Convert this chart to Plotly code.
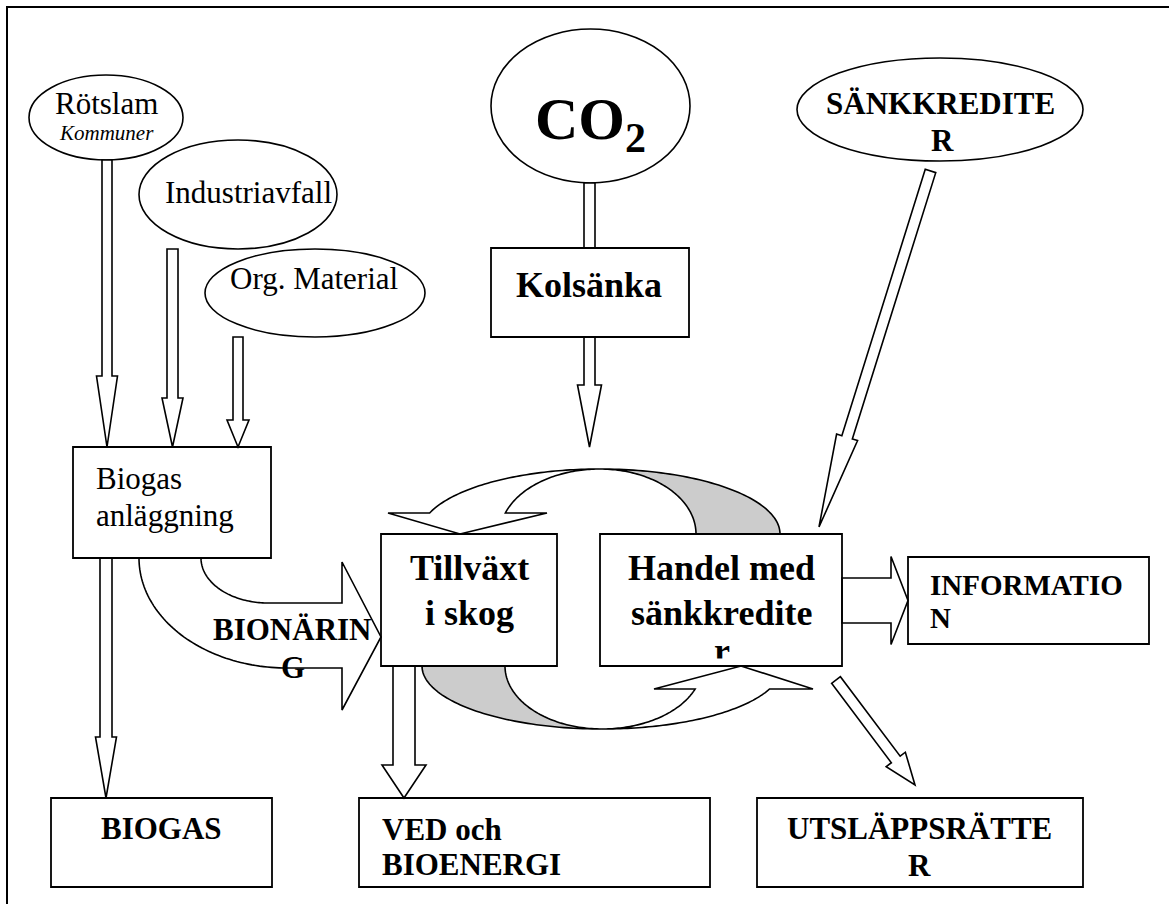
import numpy as np
import plotly.graph_objects as go

W, H = 1169, 904
FONT = "Liberation Serif, Times New Roman, serif"
INK = "#000000"
GRAY = "#cccccc"
LW = 1.6

# ---------------- content (labels) ----------------
ellipse_names = ["Rötslam", "Industriavfall", "Org. Material", "CO2", "SÄNKKREDITER"]
box_names = ["Kolsänka", "Biogas anläggning", "Tillväxt i skog", "Handel med sänkkrediter",
             "INFORMATION", "BIOGAS", "VED och BIOENERGI", "UTSLÄPPSRÄTTER"]

# ---------------- geometry ----------------
ellipse_boxes = [(29, 75, 183, 160), (139, 140, 337, 249), (205, 249, 425, 337),
                 (491, 29, 690, 183), (797, 58, 1083, 161)]
rect_boxes = [(491, 248, 689, 337), (73, 447, 271, 558), (381, 534, 557, 666),
              (600, 534, 842, 666), (908, 557, 1149, 644), (51, 798, 272, 887),
              (359, 798, 710, 887), (757, 798, 1083, 887)]

# straight block arrows: tail, tip, shaft half width, head half width, head length
arrows = [((107, 160), (107, 447), 5, 10.5, 71),
          ((172.5, 249), (172.5, 447), 5.5, 10.5, 49),
          ((238, 337), (238, 447), 5, 11, 27),
          ((589.5, 337), (589.5, 447), 5.5, 12, 62),
          ((106, 558), (106, 798), 6, 10.5, 61),
          ((404, 666), (404, 798), 11, 22, 33),
          ((930.5, 171), (819, 527), 5.5, 11, 94),
          ((836, 680), (915, 785), 5.5, 12, 32),
          ((842, 600.5), (908, 600.5), 22.5, 44, 17)]

# text annotations: text, x, y, size, anchor
texts = [("Rötslam", 106, 103, 31, "center"),
         ("<i>Kommuner</i>", 106, 133, 21, "center"),
         ("Industriavfall", 248, 192, 31, "center"),
         ("Org. Material", 314, 278, 31, "center"),
         ("Biogas", 94, 478, 31, "left"),
         ("anläggning", 94, 515, 31, "left"),
         ("<b>CO<sub>2</sub></b>", 590, 123, 60, "center"),
         ("<b>Kolsänka</b>", 589, 285, 36, "center"),
         ("<b>SÄNKKREDITE</b>", 940, 103, 31, "center"),
         ("<b>R</b>", 942, 140, 31, "center"),
         ("<b>Tillväxt</b>", 469, 568, 36, "center"),
         ("<b>i skog</b>", 469, 613, 36, "center"),
         ("<b>Handel med</b>", 721, 568, 36, "center"),
         ("<b>sänkkredite</b>", 721, 613, 36, "center"),
         ("<b>INFORMATIO</b>", 928, 585, 29, "left"),
         ("<b>N</b>", 928, 618, 29, "left"),
         ("<b>BIONÄRIN</b>", 292, 629, 31, "center"),
         ("<b>G</b>", 293, 667, 31, "center"),
         ("<b>BIOGAS</b>", 161, 828, 31, "center"),
         ("<b>VED och</b>", 380, 829, 31, "left"),
         ("<b>BIOENERGI</b>", 380, 864, 31, "left"),
         ("<b>UTSLÄPPSRÄTTE</b>", 919, 828, 31, "center"),
         ("<b>R</b>", 919, 865, 31, "center")]


def path_from(points, close=True):
    s = "M " + " L ".join(f"{x:.2f},{y:.2f}" for x, y in points)
    return s + (" Z" if close else "")


def arc(cx, cy, rx, ry, t0, t1, n=60):
    t = np.linspace(t0, t1, n)
    return list(zip(cx + rx * np.cos(t), cy + ry * np.sin(t)))


def block_arrow(tail, tip, w, hw, hl):
    t = np.array(tail, float)
    p = np.array(tip, float)
    d = p - t
    u = d / np.linalg.norm(d)
    n = np.array([-u[1], u[0]])
    b = p - u * hl
    pts = [t + n * w, b + n * w, b + n * hw, p, b - n * hw, b - n * w, t - n * w]
    return [tuple(q) for q in pts]


shapes = []
line = dict(color=INK, width=LW)

# outer frame
shapes.append(dict(type="rect", x0=7, y0=7, x1=1185, y1=920,
                   line=dict(color=INK, width=2), fillcolor="rgba(0,0,0,0)"))

# ----- cycle arrows -----
# upper cycle (arrow pointing to Tillväxt)
ucx, ucy, urx, ury = 600, 534, 180, 65
a_neck = np.pi + np.arcsin(21 / 65)
white_u = (arc(ucx, ucy, urx, ury, a_neck, 1.5 * np.pi)
           + arc(ucx, ucy, 100, ury, 1.5 * np.pi, a_neck)
           + [(547, 513), (460, 534), (388, 513)])
gray_u = (arc(ucx, ucy, urx, ury, 1.5 * np.pi, 2 * np.pi)
          + arc(ucx, ucy, 96, ury, 2 * np.pi, 1.5 * np.pi))
shapes.append(dict(type="path", path=path_from(gray_u), fillcolor=GRAY, line=line))
shapes.append(dict(type="path", path=path_from(white_u), fillcolor="white", line=line))

# lower cycle (arrow pointing to Handel)
lcx, lcy, lrx, lry = 602, 666, 180, 63
b_neck = np.arcsin(23 / 63)
gray_l = (arc(lcx, lcy, lrx, lry, np.pi, 0.5 * np.pi)
          + arc(lcx, lcy, 97, lry, 0.5 * np.pi, np.pi))
white_l = (arc(lcx, lcy, lrx, lry, 0.5 * np.pi, b_neck)
           + [(813, 689), (741, 666), (654, 689)]
           + arc(lcx, lcy, 100, lry, b_neck, 0.5 * np.pi))
shapes.append(dict(type="path", path=path_from(gray_l), fillcolor=GRAY, line=line))
shapes.append(dict(type="path", path=path_from(white_l), fillcolor="white", line=line))

# ----- BIONÄRING curved arrow -----
bio = (arc(287, 558, 148, 110, np.pi, 0.5 * np.pi)
       + [(342, 668), (342, 710), (381, 637), (342, 562), (342, 603)]
       + arc(268, 558, 67, 45, 0.5 * np.pi, np.pi))
shapes.append(dict(type="path", path=path_from(bio), fillcolor="white", line=line))

# ----- ellipses -----
for (x0, y0, x1, y1) in ellipse_boxes:
    shapes.append(dict(type="circle", x0=x0, y0=y0, x1=x1, y1=y1,
                       fillcolor="white", line=line))

# ----- straight arrows -----
for tail, tip, w, hw, hl in arrows:
    shapes.append(dict(type="path", path=path_from(block_arrow(tail, tip, w, hw, hl)),
                       fillcolor="white", line=line))
# CO2 -> Kolsänka shaft
shapes.append(dict(type="rect", x0=584, y0=183, x1=595, y1=248,
                   fillcolor="white", line=line))

# cover for clipped "r" inside Handel box
shapes.append(dict(type="rect", x0=700, y0=658.5, x1=745, y1=665,
                   fillcolor="white", line=dict(width=0)))

# ----- boxes -----
for (x0, y0, x1, y1) in rect_boxes:
    shapes.append(dict(type="rect", x0=x0, y0=y0, x1=x1, y1=y1,
                       fillcolor="rgba(0,0,0,0)", line=dict(color=INK, width=1.8)))

for s in shapes:
    s["layer"] = "above"
    s["xref"] = "x"
    s["yref"] = "y"

annotations = []
for txt, x, y, size, anchor in texts:
    annotations.append(dict(text=txt, x=x, y=y, xref="x", yref="y", showarrow=False,
                            xanchor=anchor, yanchor="middle",
                            font=dict(family=FONT, size=size, color=INK)))

fig = go.Figure()
# clipped last letter of "sänkkrediter"
fig.add_trace(go.Scatter(x=[722], y=[654], mode="text", text=["r"],
                         textfont=dict(family=FONT, size=36, color=INK, weight="bold"),
                         hoverinfo="skip", showlegend=False))

fig.update_layout(width=W, height=H, autosize=False,
                  margin=dict(l=0, r=0, t=0, b=0, pad=0),
                  paper_bgcolor="white", plot_bgcolor="white",
                  shapes=shapes, annotations=annotations, showlegend=False,
                  xaxis=dict(range=[0, W], visible=False, fixedrange=True),
                  yaxis=dict(range=[H, 0], visible=False, fixedrange=True))

fig.write_html("out.html", config={"displayModeBar": False, "staticPlot": True},
               post_script="document.body.style.margin='0';document.body.style.overflow='hidden';")
